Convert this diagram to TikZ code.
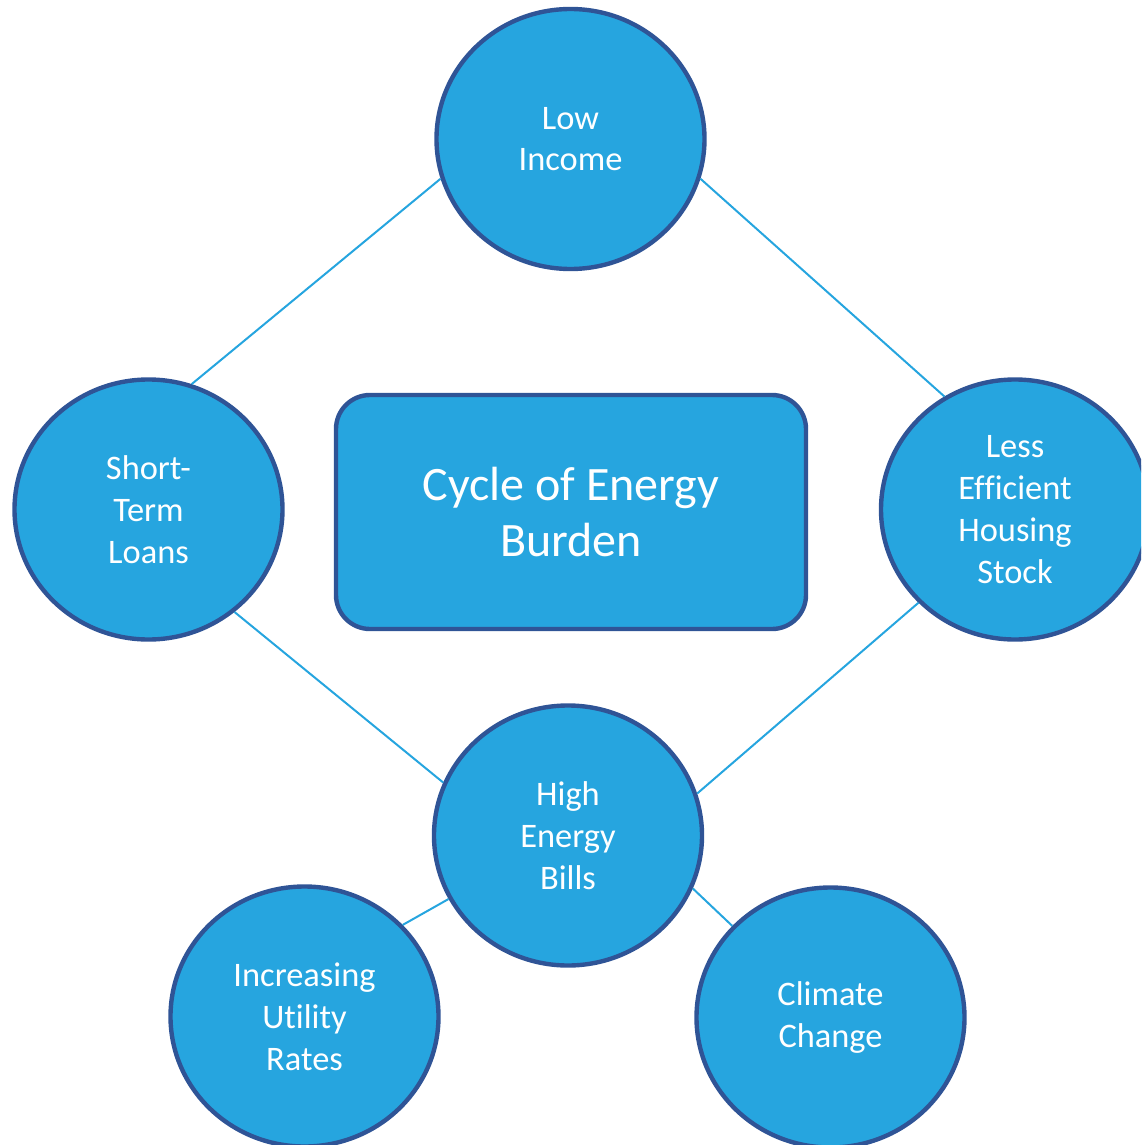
\documentclass[tikz,border=0pt]{standalone}
\usepackage{fontspec}
\setmainfont{Carlito}[Ligatures=NoCommon]
\usetikzlibrary{shapes.geometric}
\definecolor{fillblue}{RGB}{38,165,223}
\definecolor{edgeblue}{RGB}{47,84,150}

\begin{document}
\begin{tikzpicture}[x=0.5pt,y=-0.5pt,
  c/.style={ellipse,draw=edgeblue,line width=2.2pt,fill=fillblue,minimum width=134pt,
            minimum height=130pt,inner sep=0pt,align=center,text=white,
            font=\fontsize{17.2}{20.9}\selectfont},
  b/.style={draw=edgeblue,line width=2.2pt,fill=fillblue,rounded corners=17pt,
            minimum width=235pt,minimum height=117pt,align=center,text=white,
            font=\fontsize{24}{27.7}\selectfont},
  l/.style={draw=fillblue,line width=1pt}
]
\clip (0,0) rectangle (1141,1145);
\node[c] (low)   at (570.5,139)  {Low\\Income};
\node[c] (loans) at (148.5,509.5)  {Short-\\Term\\Loans};
\node[c] (house) at (1015,509.5)   {Less\\Efficient\\Housing\\Stock};
\node[c] (bills) at (568,835.5)    {High\\Energy\\Bills};
\node[c] (rates) at (304.5,1016.5) {Increasing\\Utility\\Rates};
\node[c] (clim)  at (830.5,1017.5) {Climate\\Change};
\node[b] (burden) at (571,512)     {Cycle of Energy\\Burden};
\draw[l](low.197)--(loans.71);\draw[l](low.343)--(house.122);
\draw[l](loans.310)--(bills.157);\draw[l](house.224)--(bills.18);
\draw[l](bills.208)--(rates.43);\draw[l](bills.337)--(clim.137);
\end{tikzpicture}
\end{document}
